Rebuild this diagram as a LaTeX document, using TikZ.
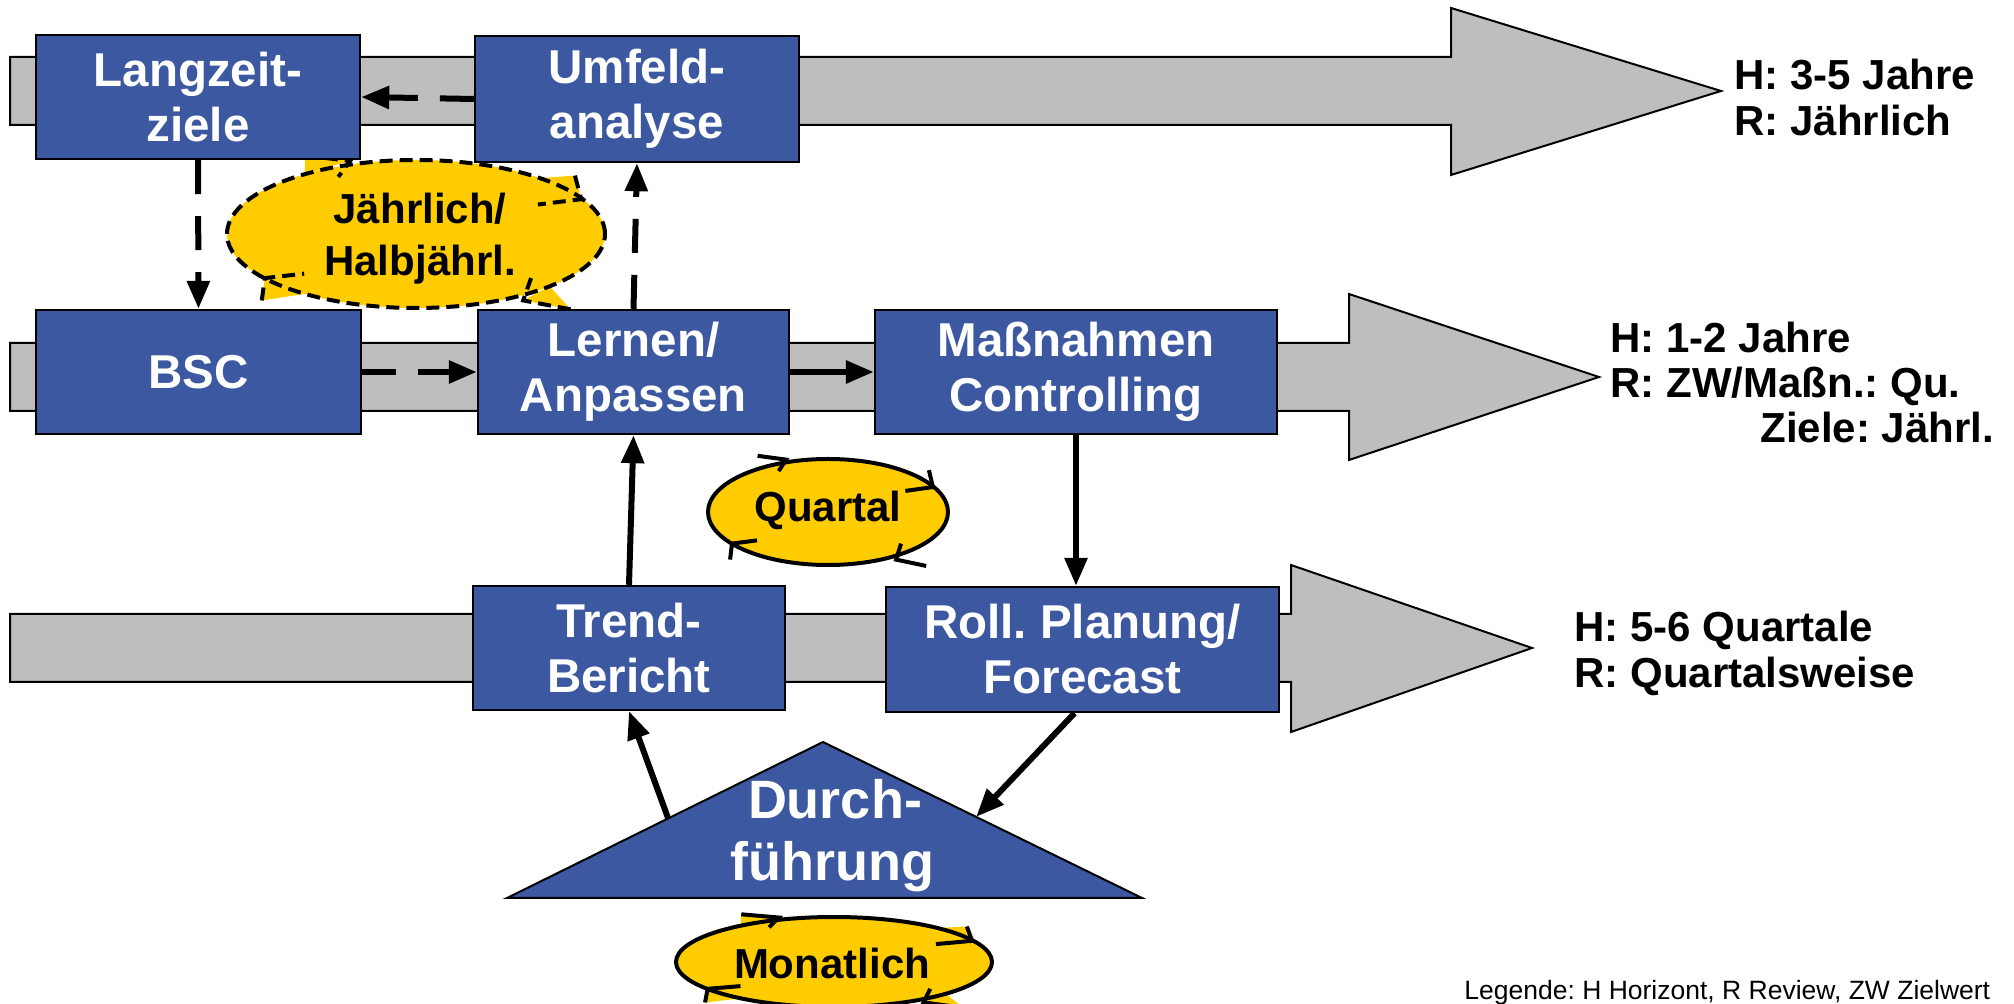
\documentclass[tikz,border=0pt]{standalone}
\usepackage{fontspec}
\setmainfont{Liberation Sans}
\usetikzlibrary{arrows.meta,calc}

\definecolor{boxblue}{RGB}{60,88,160}
\definecolor{bandgray}{RGB}{190,190,190}
\definecolor{bubbleyellow}{RGB}{255,204,0}

\tikzset{
  band/.style={fill=bandgray, draw=black, line width=1pt, line join=miter},
  stepbox/.style={fill=boxblue, draw=black, line width=1.2pt, text=white,
    font=\fontsize{23.75}{27.5}\selectfont\bfseries, align=center, inner sep=0pt},
  flow/.style={line width=3pt, -{Triangle[length=14pt,width=11pt]}},
  dashflow/.style={flow, dash pattern=on 17pt off 11pt},
  bandnote/.style={font=\fontsize{21}{23}\selectfont\bfseries, inner sep=0pt, anchor=base west},
  bubbletext/.style={font=\fontsize{21}{26}\selectfont\bfseries, align=center, inner sep=0pt},
  solidring/.style={line width=2pt},
  dashring/.style={line width=2pt, dash pattern=on 6.5pt off 3.5pt},
  spikefill/.style={fill=bubbleyellow},
  nospike/.style={},
}

% Elliptic "cycle" bubble: filled ellipse with four clockwise chevrons.
% #1 centre, #2 x radius, #3 y radius, #4 stroke style, #5 spike style
\newcommand\cyclebubble[5]{%
  \begin{scope}[shift={#1}, xscale=#2, yscale=-#3]
    \foreach \ou/\ov/\tu/\tv/\iu/\iv/\bu/\bv in {%
        -0.587/1.06/-0.349/0.988/-0.411/0.771/-0.588/0.809,
        0.841/0.789/0.874/0.47/0.645/0.398/0.656/0.755,
        0.818/-1.018/0.567/-0.898/0.609/-0.596/0.707/-0.707,
        -0.816/-0.898/-0.80/-0.596/-0.592/-0.536/-0.588/-0.809}
      \path[#5] (\ou,\ov) -- (\tu,\tv) -- (\bu,\bv) -- cycle;
    \path[fill=bubbleyellow] (0,0) circle (1);
    \draw[#4] (0,0) circle (1);
    \foreach \ou/\ov/\tu/\tv/\iu/\iv in {%
        -0.587/1.06/-0.349/0.988/-0.411/0.771,
        0.841/0.789/0.874/0.47/0.645/0.398,
        0.818/-1.018/0.567/-0.898/0.609/-0.596,
        -0.816/-0.898/-0.80/-0.596/-0.592/-0.536}
      \draw[#4] (\ou,\ov) -- (\tu,\tv) -- (\iu,\iv);
  \end{scope}}

\begin{document}
\frenchspacing
\begin{tikzpicture}[x=0.5pt, y=-0.5pt]
\useasboundingbox (0,0) rectangle (2014,1004);

% time bands
\draw[band] (10,57) -- (1451,57) -- (1451,8) -- (1721,91) -- (1451,175) -- (1451,125) -- (10,125) -- cycle;
\draw[band] (10,343) -- (1349,343) -- (1349,294) -- (1599,377) -- (1349,460) -- (1349,411) -- (10,411) -- cycle;
\draw[band] (10,614) -- (1291,614) -- (1291,565) -- (1532,648) -- (1291,732) -- (1291,682) -- (10,682) -- cycle;

% review cycles
\cyclebubble{(416,234)}{189}{74}{dashring}{spikefill}
\node[bubbletext] (jahr) at (420,239) {Jährlich/\\Halbjährl.};
\cyclebubble{(828,512)}{120}{53}{solidring}{nospike}
\node[bubbletext] (quart) at (828,510) {Quartal};
\cyclebubble{(834,962)}{158}{45}{solidring}{spikefill}
\node[bubbletext] (monat) at (832,963) {Monatlich};

% process steps
\node[stepbox, minimum width=162pt, minimum height=62pt] (lz) at (198,97) {Langzeit-\\ziele};
\node[stepbox, minimum width=162pt, minimum height=63pt] (um) at (637,99) {Umfeld-\\analyse};
\node[stepbox, minimum width=162.5pt, minimum height=62pt] (bsc) at (198.5,372) {BSC};
\node[stepbox, minimum width=155.5pt, minimum height=62pt] (ler) at (633.5,372) {Lernen/\\Anpassen};
\node[stepbox, minimum width=201pt, minimum height=62pt] (mas) at (1076,372) {Maßnahmen\\Controlling};
\node[stepbox, minimum width=156pt, minimum height=62pt] (tre) at (629,648) {Trend-\\Bericht};
\node[stepbox, minimum width=196.5pt, minimum height=62.5pt] (rol) at (1082.5,649.5) {Roll. Planung/\\Forecast};

% execution triangle
\coordinate (dap) at (823,742);
\coordinate (dbl) at (507,898);
\coordinate (dbr) at (1142,898);
\draw[fill=boxblue, line width=1pt, line join=miter] (dap) -- (dbr) -- (dbl) -- cycle;
\node[font=\fontsize{27}{31}\selectfont\bfseries, text=white, inner sep=0pt, anchor=base] (durch) at (835,819) {Durch-};
\node[font=\fontsize{27}{31}\selectfont\bfseries, text=white, inner sep=0pt, anchor=base] (fuehr) at (832,881) {führung};
\coordinate (dl) at ($(dap)!0.49!(dbl)$);
\coordinate (dr) at ($(dap)!0.48!(dbr)$);

% connectors
\draw[dashflow] (um.west) -- (lz.east);
\draw[dashflow] (lz.south) -- (bsc.north);
\draw[dashflow] (ler.north) -- (um.south);
\draw[dashflow] (bsc.east) -- (ler.west);
\draw[flow] (ler.east) -- (mas.west);
\draw[flow] (mas.south) -- (mas.south |- rol.north);
\draw[flow] (tre.north) -- (ler.south);
\draw[flow] (dl) -- (tre.south);
\draw[flow] ($(rol.south)+(-8,0)$) -- (dr);

% horizon / review notes
\node[bandnote] (h1) at (1734,90) {H: 3-5 Jahre};
\node[bandnote] (r1) at (1734,136) {R: Jährlich};
\node[bandnote] (h2) at (1610,353) {H: 1-2 Jahre};
\node[bandnote] (r2) at (1610,398) {R: ZW/Maßn.: Qu.};
\node[bandnote] (z2) at (1760,443) {Ziele: Jährl.};
\node[bandnote] (h3) at (1574,642) {H: 5-6 Quartale};
\node[bandnote] (r3) at (1574,688) {R: Quartalsweise};

\node[font=\fontsize{13.25}{15}\selectfont, inner sep=0pt, anchor=base west] (legend) at (1464,999) {Legende: H Horizont, R Review, ZW Zielwert};
\end{tikzpicture}
\end{document}
